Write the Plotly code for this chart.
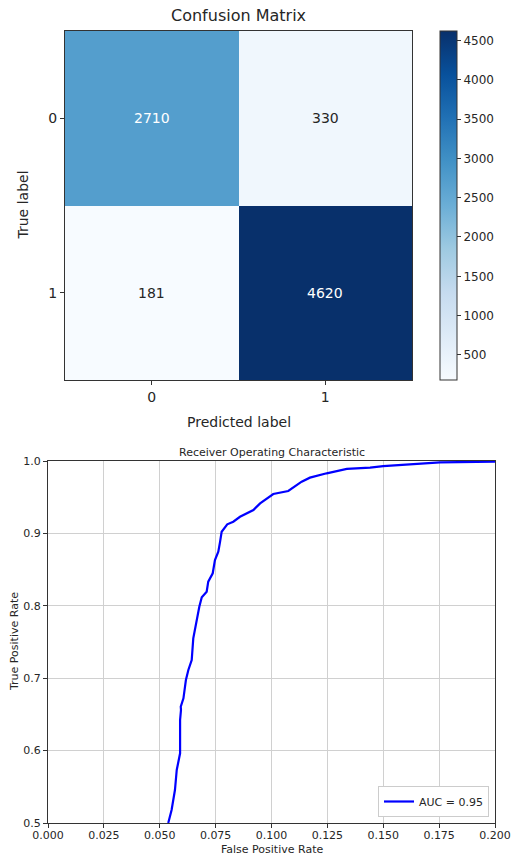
import plotly.graph_objects as go

# ---- data ----
class_labels = ["0", "1"]
cm_values = [[2710, 330],
             [181, 4620]]

fpr = [0.0538, 0.0553, 0.0568, 0.0576, 0.0591, 0.0591, 0.0595, 0.0594, 0.0606,
       0.0617, 0.0628, 0.0643, 0.0650, 0.0662, 0.0665, 0.0677, 0.0688, 0.0710,
       0.0717, 0.0737, 0.0747, 0.0762, 0.0770, 0.0777, 0.0802, 0.0829, 0.0859,
       0.0889, 0.0919, 0.0949, 0.1008, 0.1075, 0.1135, 0.1172, 0.1247, 0.1337,
       0.1441, 0.1500, 0.1650, 0.1754, 0.2000]
tpr = [0.5000, 0.5180, 0.5456, 0.5732, 0.5963, 0.6423, 0.6561, 0.6606, 0.6722,
       0.6975, 0.7113, 0.7251, 0.7551, 0.7758, 0.7827, 0.7988, 0.8117, 0.8195,
       0.8333, 0.8449, 0.8633, 0.8747, 0.8886, 0.9023, 0.9126, 0.9162, 0.9230,
       0.9280, 0.9323, 0.9415, 0.9544, 0.9586, 0.9714, 0.9770, 0.9830, 0.9890,
       0.9908, 0.9930, 0.9959, 0.9982, 0.9990]
auc_label = "AUC = 0.95"

cb_ticks = [500, 1000, 1500, 2000, 2500, 3000, 3500, 4000, 4500]
roc_xticks = [0.0, 0.025, 0.05, 0.075, 0.1, 0.125, 0.15, 0.175, 0.2]
roc_yticks = [0.5, 0.6, 0.7, 0.8, 0.9, 1.0]

W, H = 511, 856
FONT = "DejaVu Sans"
TXT = "#262626"

blues = [[0.0, "#f7fbff"], [0.125, "#deebf7"], [0.25, "#c6dbef"], [0.375, "#9ecae1"],
         [0.5, "#6baed6"], [0.625, "#4292c6"], [0.75, "#2171b5"], [0.875, "#08519c"],
         [1.0, "#08306b"]]

def px_x(p):
    return p / W

def px_y(p):
    return 1 - p / H

fig = go.Figure()

zmin = min(min(r) for r in cm_values)
zmax = max(max(r) for r in cm_values)

fig.add_trace(go.Heatmap(
    z=cm_values, x=[0, 1], y=[0, 1],
    colorscale=blues, zmin=zmin, zmax=zmax,
    xaxis="x", yaxis="y", hoverinfo="skip",
    colorbar=dict(
        x=px_x(440), xanchor="left", xref="paper",
        y=px_y(31), yanchor="top", yref="paper",
        len=349, lenmode="pixels", thickness=17, thicknessmode="pixels",
        outlinecolor="#333", outlinewidth=1,
        tickvals=cb_ticks, ticks="outside", ticklen=4, tickcolor="#333",
        tickfont=dict(family=FONT, size=12, color=TXT), xpad=0, ypad=0,
    ),
))

thresh = zmax / 2
annotations = []
for i, row in enumerate(cm_values):
    for j, v in enumerate(row):
        annotations.append(dict(
            x=j, y=i, xref="x", yref="y", text=str(v), showarrow=False,
            font=dict(family=FONT, size=14, color="white" if v > thresh else TXT)))

fig.add_trace(go.Scatter(
    x=fpr, y=tpr, mode="lines", name=auc_label,
    line=dict(color="#0000ff", width=2.2),
    xaxis="x2", yaxis="y2",
))

# titles and labels
annotations += [
    dict(text="Confusion Matrix", x=px_x(238.5), y=px_y(15), xref="paper", yref="paper",
         showarrow=False, font=dict(family=FONT, size=16, color=TXT), yanchor="middle"),
    dict(text="Predicted label", x=px_x(238.5), y=px_y(422), xref="paper", yref="paper",
         showarrow=False, font=dict(family=FONT, size=14, color=TXT), yanchor="middle"),
    dict(text="True label", x=px_x(22), y=px_y(205.5), xref="paper", yref="paper",
         showarrow=False, textangle=-90, font=dict(family=FONT, size=14, color=TXT),
         xanchor="center", yanchor="middle"),
    dict(text="Receiver Operating Characteristic", x=px_x(271.5), y=px_y(452),
         xref="paper", yref="paper", showarrow=False,
         font=dict(family=FONT, size=11, color=TXT), yanchor="middle"),
    dict(text="False Positive Rate", x=px_x(271.5), y=px_y(849), xref="paper", yref="paper",
         showarrow=False, borderpad=0, font=dict(family=FONT, size=11, color=TXT),
         yanchor="middle"),
    dict(text="True Positive Rate", x=px_x(14), y=px_y(642), xref="paper", yref="paper",
         showarrow=False, textangle=-90, font=dict(family=FONT, size=11, color=TXT),
         xanchor="center", yanchor="middle"),
]

axis_common = dict(showline=True, linecolor="#333", linewidth=1, mirror=True,
                   ticks="outside", ticklen=4, tickcolor="#333", zeroline=False,
                   automargin=False)

fig.update_layout(
    width=W, height=H,
    margin=dict(l=0, r=0, t=0, b=0, autoexpand=False),
    paper_bgcolor="white", plot_bgcolor="white",
    font=dict(family=FONT, color=TXT),
    annotations=annotations,
    xaxis=dict(domain=[px_x(65), px_x(412)], anchor="y", range=[-0.5, 1.5],
               tickvals=[0, 1], ticktext=class_labels, showgrid=False,
               tickfont=dict(size=14), **axis_common),
    yaxis=dict(domain=[px_y(380), px_y(31)], anchor="x", range=[1.5, -0.5],
               tickvals=[0, 1], ticktext=class_labels, showgrid=False,
               tickfont=dict(size=14), **axis_common),
    xaxis2=dict(domain=[px_x(48), px_x(495)], anchor="y2", range=[0, 0.2],
                tickvals=roc_xticks, tickformat=".3f", showgrid=True,
                gridcolor="#d0d0d0", gridwidth=1, tickfont=dict(size=11),
                ticklabelstandoff=-2, **axis_common),
    yaxis2=dict(domain=[px_y(823), px_y(461)], anchor="x2", range=[0.5, 1.0],
                tickvals=roc_yticks, tickformat=".1f", showgrid=True,
                gridcolor="#d0d0d0", gridwidth=1, tickfont=dict(size=11), **axis_common),
    showlegend=True,
    legend=dict(x=px_x(489), y=px_y(817), xanchor="right", yanchor="bottom",
                xref="paper", yref="paper",
                bgcolor="white", bordercolor="#cccccc", borderwidth=1,
                font=dict(family=FONT, size=11, color=TXT)),
)

fig.write_html("out.html", config={"displayModeBar": False},
               post_script="document.body.style.margin='0';document.body.style.overflow='hidden';")
